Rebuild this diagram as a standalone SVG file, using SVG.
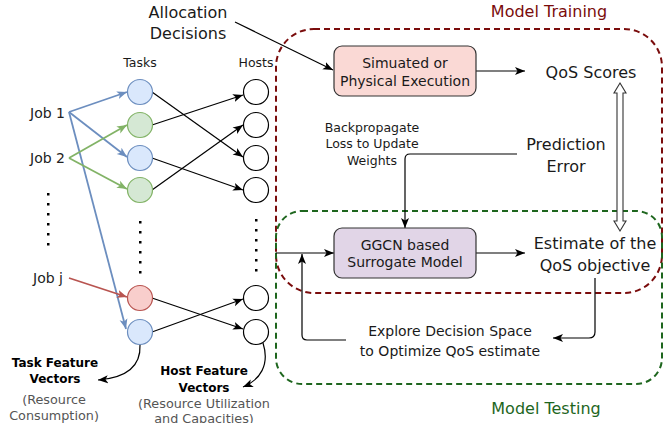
<svg xmlns="http://www.w3.org/2000/svg" width="664" height="423" viewBox="0 0 664 423">
<style>
text{font-family:"DejaVu Sans","Liberation Sans",sans-serif;fill:#1a1a1a}
.t16{font-size:16px;text-anchor:middle}
.t14{font-size:14px;text-anchor:middle}
.t13{font-size:12.5px;text-anchor:middle}
.job{font-size:14px;text-anchor:end;fill:#222}
.bold{font-size:12px;font-weight:bold;text-anchor:middle;fill:#000}
.gray{font-size:12.8px;text-anchor:middle;fill:#555}
.ln{fill:none;stroke:#000;stroke-width:1.2}
.blue{fill:none;stroke:#6c8ebf;stroke-width:1.8}
.green{fill:none;stroke:#82b366;stroke-width:1.8}
.red{fill:none;stroke:#b85450;stroke-width:1.8}
.tb{fill:#dae8fc;stroke:#6c8ebf;stroke-width:1.2}
.tg{fill:#d5e8d4;stroke:#82b366;stroke-width:1.2}
.tr{fill:#f8cecc;stroke:#b85450;stroke-width:1.2}
.host{fill:#fff;stroke:#000;stroke-width:1.2}
.dot{fill:#000}
</style>
<defs>
<marker id="ab" viewBox="0 0 10 10" refX="10" refY="5" markerWidth="10" markerHeight="10" markerUnits="userSpaceOnUse" orient="auto"><path d="M0,1 L10,5 L0,9 L2.5,5 Z" fill="#000"/></marker>
<marker id="abb" viewBox="0 0 10 10" refX="10" refY="5" markerWidth="10" markerHeight="10" markerUnits="userSpaceOnUse" orient="auto"><path d="M0,1 L10,5 L0,9 L2.5,5 Z" fill="#6c8ebf"/></marker>
<marker id="abg" viewBox="0 0 10 10" refX="10" refY="5" markerWidth="10" markerHeight="10" markerUnits="userSpaceOnUse" orient="auto"><path d="M0,1 L10,5 L0,9 L2.5,5 Z" fill="#82b366"/></marker>
<marker id="abr" viewBox="0 0 10 10" refX="10" refY="5" markerWidth="10" markerHeight="10" markerUnits="userSpaceOnUse" orient="auto"><path d="M0,1 L10,5 L0,9 L2.5,5 Z" fill="#b85450"/></marker>
</defs>

<g id="model-training">
<rect x="276" y="29" width="386" height="264" rx="38" fill="none" stroke="#7a0c0c" stroke-width="2" stroke-dasharray="6,4"/>
<text class="t16" x="549" y="17" style="fill:#7a0c0c">Model Training</text>
</g>
<g id="model-testing">
<rect x="276" y="211" width="386" height="173" rx="26" fill="none" stroke="#1e661e" stroke-width="2" stroke-dasharray="6,4"/>
<text class="t16" x="546" y="414" style="fill:#1e661e">Model Testing</text>
</g>

<g id="connectors">
<line class="blue" x1="69" y1="112" x2="127" y2="92" marker-end="url(#abb)"/>
<line class="blue" x1="69" y1="112" x2="127" y2="157" marker-end="url(#abb)"/>
<line class="blue" x1="69" y1="112" x2="126" y2="329" marker-end="url(#abb)"/>
<line class="green" x1="69" y1="158" x2="127" y2="125" marker-end="url(#abg)"/>
<line class="green" x1="69" y1="158" x2="127" y2="189" marker-end="url(#abg)"/>
<line class="red" x1="69" y1="278" x2="127" y2="297" marker-end="url(#abr)"/>
<line class="ln" x1="152" y1="92" x2="243" y2="157" marker-end="url(#ab)"/>
<line class="ln" x1="152" y1="125" x2="243" y2="95" marker-end="url(#ab)"/>
<line class="ln" x1="152" y1="158" x2="243" y2="190" marker-end="url(#ab)"/>
<line class="ln" x1="152" y1="190" x2="243" y2="125" marker-end="url(#ab)"/>
<line class="ln" x1="152" y1="298" x2="243" y2="329" marker-end="url(#ab)"/>
<line class="ln" x1="152" y1="332" x2="243" y2="299" marker-end="url(#ab)"/>
<path class="ln" d="M140,345 C141,368 124,378 98,380" marker-end="url(#ab)"/>
<path class="ln" d="M263,343 C270,365 260,380 243,387" marker-end="url(#ab)"/>
<line class="ln" x1="235" y1="22" x2="333" y2="70" marker-end="url(#ab)"/>
<line class="ln" x1="476" y1="71" x2="525" y2="71" marker-end="url(#ab)"/>
<line class="ln" x1="476" y1="253" x2="525" y2="253" marker-end="url(#ab)"/>
<line class="ln" x1="276" y1="253" x2="334" y2="253" marker-end="url(#ab)"/>
<path class="ln" d="M517,154 L410,154 Q405,154 405,159 L405,228" marker-end="url(#ab)"/>
<path class="ln" d="M595,278 L595,332 Q595,338 589,338 L553,338" marker-end="url(#ab)"/>
<path class="ln" d="M346,340 L307,340 Q302,340 302,335 L302,254" marker-end="url(#ab)"/>
<path d="M620,83 L626,93 L623,93 L623,221 L626,221 L620,231 L614,221 L617,221 L617,93 L614,93 Z" fill="#fff" stroke="#333" stroke-width="1.1"/>
</g>

<g id="allocation-decisions">
<text class="t16" x="188" y="18">Allocation</text>
<text class="t16" x="188" y="39">Decisions</text>
</g>
<g id="labels">
<text class="t13" x="140" y="67">Tasks</text>
<text class="t13" x="256" y="67">Hosts</text>
</g>
<g id="jobs">
<text class="job" x="65" y="118">Job 1</text>
<text class="job" x="65" y="163">Job 2</text>
<text class="job" x="63" y="283">Job j</text>
<g class="dot">
<rect x="47" y="193" width="2.5" height="2.5"/><rect x="47" y="203" width="2.5" height="2.5"/><rect x="47" y="213" width="2.5" height="2.5"/><rect x="47" y="223" width="2.5" height="2.5"/><rect x="47" y="233" width="2.5" height="2.5"/><rect x="47" y="243" width="2.5" height="2.5"/>
</g>
</g>
<g id="tasks">
<circle class="tb" cx="140" cy="92" r="12.5"/>
<circle class="tg" cx="140" cy="125" r="12.5"/>
<circle class="tb" cx="140" cy="158" r="12.5"/>
<circle class="tg" cx="140" cy="190" r="12.5"/>
<circle class="tr" cx="140" cy="298" r="12.5"/>
<circle class="tb" cx="140" cy="332" r="12.5"/>
<g class="dot">
<rect x="139" y="221" width="2.5" height="2.5"/><rect x="139" y="231" width="2.5" height="2.5"/><rect x="139" y="241" width="2.5" height="2.5"/><rect x="139" y="251" width="2.5" height="2.5"/><rect x="139" y="261" width="2.5" height="2.5"/><rect x="139" y="271" width="2.5" height="2.5"/>
</g>
</g>
<g id="hosts">
<circle class="host" cx="256" cy="92" r="12.5"/>
<circle class="host" cx="256" cy="125" r="12.5"/>
<circle class="host" cx="256" cy="158" r="12.5"/>
<circle class="host" cx="256" cy="190" r="12.5"/>
<circle class="host" cx="256" cy="298" r="12.5"/>
<circle class="host" cx="256" cy="332" r="12.5"/>
<g class="dot">
<rect x="255" y="219" width="2.5" height="2.5"/><rect x="255" y="229" width="2.5" height="2.5"/><rect x="255" y="239" width="2.5" height="2.5"/><rect x="255" y="249" width="2.5" height="2.5"/><rect x="255" y="259" width="2.5" height="2.5"/><rect x="255" y="269" width="2.5" height="2.5"/>
</g>
</g>
<g id="task-feature-vectors">
<text class="bold" x="55" y="367">Task Feature</text>
<text class="bold" x="55" y="383">Vectors</text>
<text class="gray" x="54" y="404">(Resource</text>
<text class="gray" x="54" y="420">Consumption)</text>
</g>
<g id="host-feature-vectors">
<text class="bold" x="204" y="375">Host Feature</text>
<text class="bold" x="204" y="392">Vectors</text>
<text class="gray" x="204" y="408">(Resource Utilization</text>
<text class="gray" x="204" y="423">and Capacities)</text>
</g>
<g id="execution">
<rect x="334" y="46" width="142" height="50" rx="8" fill="#fad9d5" stroke="#333" stroke-width="1.2"/>
<text class="t14" x="405" y="68">Simuated or</text>
<text class="t14" x="405" y="86">Physical Execution</text>
</g>
<g id="qos-scores"><text class="t16" x="591" y="78">QoS Scores</text></g>
<g id="backprop">
<text class="t13" x="372" y="132">Backpropagate</text>
<text class="t13" x="372" y="148">Loss to Update</text>
<text class="t13" x="372" y="165">Weights</text>
</g>
<g id="prediction-error">
<text class="t16" x="566" y="150">Prediction</text>
<text class="t16" x="566" y="172">Error</text>
</g>
<g id="surrogate">
<rect x="334" y="228" width="142" height="50" rx="8" fill="#e1d5e7" stroke="#333" stroke-width="1.2"/>
<text class="t14" x="405" y="250">GGCN based</text>
<text class="t14" x="405" y="267">Surrogate Model</text>
</g>
<g id="estimate">
<text class="t16" x="595" y="249">Estimate of the</text>
<text class="t16" x="595" y="271">QoS objective</text>
</g>
<g id="explore">
<text class="t14" x="450" y="336">Explore Decision Space</text>
<text class="t14" x="450" y="356">to Optimize QoS estimate</text>
</g>
</svg>
